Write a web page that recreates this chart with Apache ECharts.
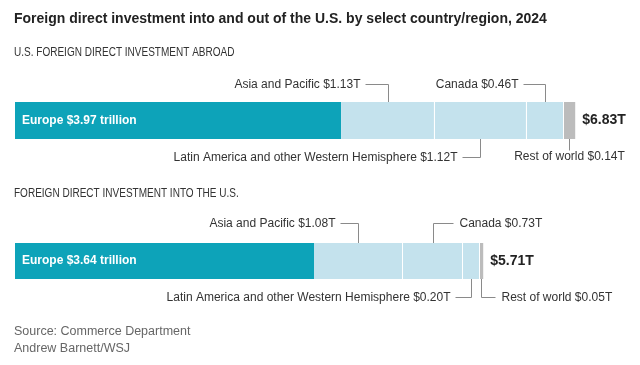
<!DOCTYPE html>
<html><head><meta charset="utf-8">
<script src="https://cdn.jsdelivr.net/npm/echarts@6/dist/echarts.min.js"></script>
<style>html,body{margin:0;padding:0;background:#fff}#c{width:640px;height:365px}</style>
</head><body><div id="c"></div>
<script>
// ---- data ----
const titleText = 'Foreign direct investment into and out of the U.S. by select country/region, 2024';
const panelTitles = ['U.S. FOREIGN DIRECT INVESTMENT ABROAD', 'FOREIGN DIRECT INVESTMENT INTO THE U.S.'];
const regions1 = ['Europe', 'Asia and Pacific', 'Latin America and other Western Hemisphere', 'Canada', 'Rest of world'];
const values1 = [3.97, 1.13, 1.12, 0.46, 0.14];
const total1 = 6.83;
const regions2 = ['Europe', 'Asia and Pacific', 'Canada', 'Latin America and other Western Hemisphere', 'Rest of world'];
const values2 = [3.64, 1.08, 0.73, 0.20, 0.05];
const total2 = 5.71;
const sourceLines = ['Source: Commerce Department', 'Andrew Barnett/WSJ'];

// ---- style ----
const FONT = '"Liberation Sans Narrow", "Liberation Sans", Arial, sans-serif';
const segColors = ['#0da3b9', '#c4e2ed', '#c4e2ed', '#c4e2ed', '#bcbcbc'];
const LINE = '#8a8a8a';
const TXT = '#333';
// label layouts per panel for segments 1..4: side, dir, rise, run
const layouts = [
  [null, {side:'top',dir:'left',rise:18,run:23}, {side:'bottom',dir:'left',rise:18,run:18}, {side:'top',dir:'left',rise:18,run:22}, {side:'bottom',dir:'center',rise:11,run:0}],
  [null, {side:'top',dir:'left',rise:20,run:18}, {side:'top',dir:'right',rise:20,run:20}, {side:'bottom',dir:'left',rise:18,run:16}, {side:'bottom',dir:'right',rise:18,run:14}]
];
const grids = [{left:15, top:102, width:575, height:37}, {left:15, top:243, width:575, height:36}];

const panels = [
  {regions: regions1, values: values1, total: total1},
  {regions: regions2, values: values2, total: total2}
];

const chart = echarts.init(document.getElementById('c'), null, {renderer:'canvas'});

const series = [];
panels.forEach((p, gi) => {
  p.values.forEach((v, i) => {
    const s = {
      type: 'bar', stack: 'p' + gi, xAxisIndex: gi, yAxisIndex: gi,
      name: p.regions[i], data: [v], barWidth: grids[gi].height,
      itemStyle: {color: segColors[i]}, silent: true, animation: false
    };
    if (i === 0) {
      s.label = {show: true, position: 'insideLeft', distance: 7,
        formatter: p.regions[i] + ' $' + v.toFixed(2) + ' trillion',
        color: '#fff', fontWeight: 'bold', fontSize: 12, fontFamily: FONT};
      // separators between lighter segments
      let cum = 0; const seps = [];
      p.values.forEach((vv, k) => { cum += vv; if (k >= 1 && k <= 3) seps.push({xAxis: cum}); });
      s.markLine = {silent: true, symbol: 'none', label: {show: false},
        lineStyle: {color: '#fff', width: 1, type: 'solid'}, data: seps, animation: false};
    }
    if (i === p.values.length - 1) {
      s.label = {show: true, position: 'right', distance: 7,
        formatter: '$' + p.total.toFixed(2) + 'T',
        color: '#222', fontWeight: 'bold', fontSize: 14, fontFamily: FONT};
    }
    series.push(s);
  });
});

chart.setOption({
  animation: false,
  textStyle: {fontFamily: FONT},
  grid: grids.map(g => Object.assign({containLabel: false}, g)),
  xAxis: grids.map((g, gi) => ({gridIndex: gi, type: 'value', min: 0, max: 7, show: false})),
  yAxis: grids.map((g, gi) => ({gridIndex: gi, type: 'category', data: ['x'], show: false})),
  series: series
});

// text & leader lines placed via the chart's own coordinate conversion
const gfx = [];
gfx.push({type:'text', x:14, y:19, style:{text:titleText, font:'bold 14px ' + FONT, fill:'#222', textVerticalAlign:'middle'}});
gfx.push({type:'text', x:14, y:53, scaleX:0.835, style:{text:panelTitles[0], font:'12px ' + FONT, fill:TXT, textVerticalAlign:'middle'}});
gfx.push({type:'text', x:14, y:194, scaleX:0.835, style:{text:panelTitles[1], font:'12px ' + FONT, fill:TXT, textVerticalAlign:'middle'}});
gfx.push({type:'text', x:14, y:332, style:{text:sourceLines[0], font:'12.5px ' + FONT, fill:'#666', textVerticalAlign:'middle'}});
gfx.push({type:'text', x:14, y:349, style:{text:sourceLines[1], font:'12.5px ' + FONT, fill:'#666', textVerticalAlign:'middle'}});

panels.forEach((p, gi) => {
  let cum = 0;
  const half = grids[gi].height / 2;
  p.values.forEach((v, i) => {
    const start = cum; cum += v;
    const L = layouts[gi][i];
    if (!L) return;
    const mid = chart.convertToPixel({xAxisIndex: gi, yAxisIndex: gi}, [(start + cum) / 2, 'x']);
    const mx = Math.round(mid[0]) + 0.5;
    const edge = L.side === 'top' ? mid[1] - half : mid[1] + half;
    const ly = Math.round(L.side === 'top' ? edge - L.rise : edge + L.rise) + 0.5;
    const pts = [[mx, edge], [mx, ly]];
    let tx, align, ty = ly;
    if (L.dir === 'left') { pts.push([mx - L.run, ly]); tx = mx - L.run - 5; align = 'right'; }
    else if (L.dir === 'right') { pts.push([mx + L.run, ly]); tx = mx + L.run + 6; align = 'left'; }
    else { tx = mx; align = 'center'; ty = edge + 18; }
    gfx.push({type:'polyline', shape:{points: pts}, style:{stroke: LINE, lineWidth: 1, fill: null}, silent: true});
    gfx.push({type:'text', x: tx, y: ty, style:{text: p.regions[i] + ' $' + v.toFixed(2) + 'T', font: '12px ' + FONT, fill: TXT, textAlign: align, textVerticalAlign: 'middle'}});
  });
});
chart.setOption({graphic: gfx});
</script>
</body></html>
